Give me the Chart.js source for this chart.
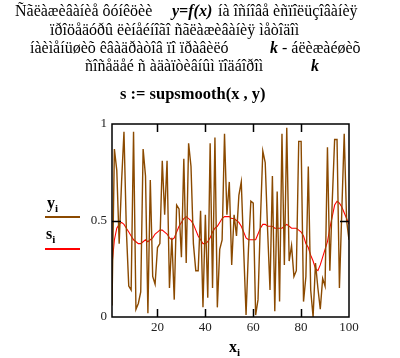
<!DOCTYPE html>
<html>
<head>
<meta charset="utf-8">
<script src="https://cdn.jsdelivr.net/npm/chart.js@4/dist/chart.umd.min.js"></script>
<style>
  body { margin: 0; background: #fff; }
  #wrap { position: relative; width: 400px; height: 358px; font-family: 'Liberation Serif', serif; color: #000; }
  #wrap canvas { position: absolute; left: 0; top: 0; }
  .t { position: absolute; white-space: pre; font-size: 16px; line-height: 18px; }
  .b { font-weight: bold; }
  .bi { font-weight: bold; font-style: italic; }
  .leg { position: absolute; left: 45px; width: 35px; height: 2px; }
</style>
</head>
<body>
<div id="wrap">
  <canvas id="myChart" width="400" height="358"></canvas>
  <div class="t" style="left:15px;top:2px">Ñãëàæèâàíèå ôóíêöèè</div>
  <div class="t bi" style="left:172px;top:2px">y=f(x)</div>
  <div class="t" style="left:218px;top:2px">íà îñíîâå èñïîëüçîâàíèÿ</div>
  <div class="t" style="left:50px;top:21px">ïðîöåäóðû ëèíåéíîãî ñãëàæèâàíèÿ ìåòîäîì</div>
  <div class="t" style="left:30px;top:39px">íàèìåíüøèõ êâàäðàòîâ ïî ïðàâèëó</div>
  <div class="t" style="left:270px;top:39px"><span class="bi">k</span> - áëèæàéøèõ</div>
  <div class="t" style="left:85px;top:57px">ñîñåäåé ñ àäàïòèâíûì ïîäáîðîì</div>
  <div class="t bi" style="left:311px;top:57px">k</div>
  <div class="t b" style="left:120px;top:85px;font-size:16.5px">s := supsmooth(x , y)</div>
  <div class="t b" style="left:47px;top:194px">y<sub style="font-size:11px">i</sub></div>
  <div class="leg" style="top:216px;background:#8b4a00"></div>
  <div class="t b" style="left:46px;top:225px">s<sub style="font-size:11px">i</sub></div>
  <div class="leg" style="top:248px;background:#ff0000"></div>
  <div class="t b" style="left:229px;top:338px">x<sub style="font-size:11px">i</sub></div>
</div>
<script>
const yi = [0.06, 0.87, 0.76, 0.38, 0.70, 0.96, 0.45, 0.16, 0.14, 0.96,
    0.04, 0.07, 0.13, 0.87, 0.73, 0.02, 0.71, 0.21, 0.17, 0.36,
    0.38, 0.81, 0.53, 0.81, 0.15, 0.41, 0.09, 0.58, 0.56, 0.31,
    0.82, 0.28, 0.90, 0.78, 0.38, 0.24, 0.24, 0.55, 0.05, 0.53,
    0.10, 0.90, 0.15, 0.93, 0.05, 0.35, 0.40, 0.95, 0.53, 0.70,
    0.27, 0.53, 0.42, 0.63, 0.70, 0.35, 0.01, 0.35, 0.60, 0.59,
    0.01, 0.09, 0.50, 0.86, 0.80, 0.45, 0.14, 0.73, 0.03, 0.65,
    0.08, 0.95, 0.27, 0.98, 0.29, 0.37, 0.21, 0.24, 0.91, 0.91,
    0.08, 0.21, 0.78, 0.14, 0.00, 0.28, 0.15, 0.04, 0.20, 0.16,
    0.88, 0.24, 0.60, 0.92, 0.92, 0.15, 0.55, 0.95, 0.50, 0.40]

const si = [0.27, 0.40, 0.46, 0.48, 0.49, 0.48, 0.46, 0.44, 0.42, 0.40,
    0.39, 0.38, 0.38, 0.39, 0.40, 0.39, 0.40, 0.41, 0.43, 0.44,
    0.45, 0.45, 0.44, 0.43, 0.41, 0.40, 0.41, 0.44, 0.47, 0.49,
    0.51, 0.52, 0.51, 0.50, 0.48, 0.45, 0.42, 0.40, 0.38, 0.38,
    0.39, 0.41, 0.44, 0.46, 0.47, 0.49, 0.51, 0.52, 0.52, 0.52,
    0.51, 0.51, 0.50, 0.49, 0.47, 0.44, 0.41, 0.40, 0.40, 0.40,
    0.40, 0.43, 0.46, 0.48, 0.48, 0.47, 0.47, 0.47, 0.46, 0.46,
    0.46, 0.46, 0.47, 0.48, 0.47, 0.46, 0.46, 0.46, 0.45, 0.44,
    0.42, 0.38, 0.36, 0.32, 0.29, 0.25, 0.24, 0.27, 0.31, 0.35,
    0.39, 0.46, 0.52, 0.58, 0.60, 0.59, 0.57, 0.54, 0.51, 0.48]

// x index runs 1..100
const xi = yi.map((_, i) => i + 1)
const xTicks = [20, 40, 60, 80, 100]
const yTicks = [0, 0.5, 1]
const xInner = [20, 40, 60, 80]
const yInner = [0.5]

const frame = {
    id: 'frame',
    afterDraw(chart) {
        const { ctx, chartArea: a, scales } = chart
        ctx.save()
        ctx.strokeStyle = '#000'
        ctx.lineWidth = 1.5
        ctx.strokeRect(a.left, a.top, a.right - a.left, a.bottom - a.top)
        ctx.beginPath()
        xInner.forEach(v => {
            const px = Math.round(scales.x.getPixelForValue(v)) + 0.5
            ctx.moveTo(px, a.top); ctx.lineTo(px, a.top + 8)
            ctx.moveTo(px, a.bottom); ctx.lineTo(px, a.bottom - 8)
        })
        yInner.forEach(v => {
            const py = Math.round(scales.y.getPixelForValue(v)) + 0.5
            ctx.moveTo(a.left, py); ctx.lineTo(a.left + 9, py)
            ctx.moveTo(a.right, py); ctx.lineTo(a.right - 9, py)
        })
        ctx.stroke()
        ctx.restore()
    }
}

Chart.defaults.font.family = "'Liberation Serif', serif"
Chart.defaults.font.size = 13
Chart.defaults.color = '#222'

new Chart(document.getElementById('myChart'), {
    type: 'line',
    data: {
        datasets: [{
                label: 'y',
                data: xi.map((x, i) => ({ x: x, y: yi[i] })),
                borderColor: '#8b4a00',
                borderWidth: 1.4,
                pointRadius: 0,
                tension: 0
            },
            {
                label: 's',
                data: xi.map((x, i) => ({ x: x, y: si[i] })),
                borderColor: '#ff0000',
                borderWidth: 1.1,
                pointRadius: 0,
                tension: 0
            }
        ]
    },
    options: {
        responsive: false,
        animation: false,
        layout: { padding: { top: 124, right: 51, left: 0, bottom: 0 } },
        plugins: { legend: { display: false }, tooltip: { enabled: false } },
        scales: {
            x: {
                type: 'linear',
                min: 1,
                max: 100,
                afterBuildTicks: s => { s.ticks = xTicks.map(v => ({ value: v })) },
                afterFit: s => { s.height = 41 },
                grid: { display: false, drawTicks: false },
                border: { display: false },
                ticks: { padding: 3, maxRotation: 0, callback: v => String(v) }
            },
            y: {
                min: 0,
                max: 1,
                afterBuildTicks: s => { s.ticks = yTicks.map(v => ({ value: v })) },
                afterFit: s => { s.width = 112 },
                grid: { display: false, drawTicks: false },
                border: { display: false },
                ticks: { padding: 5, callback: v => String(v) }
            }
        }
    },
    plugins: [frame]
})
</script>
</body>
</html>
